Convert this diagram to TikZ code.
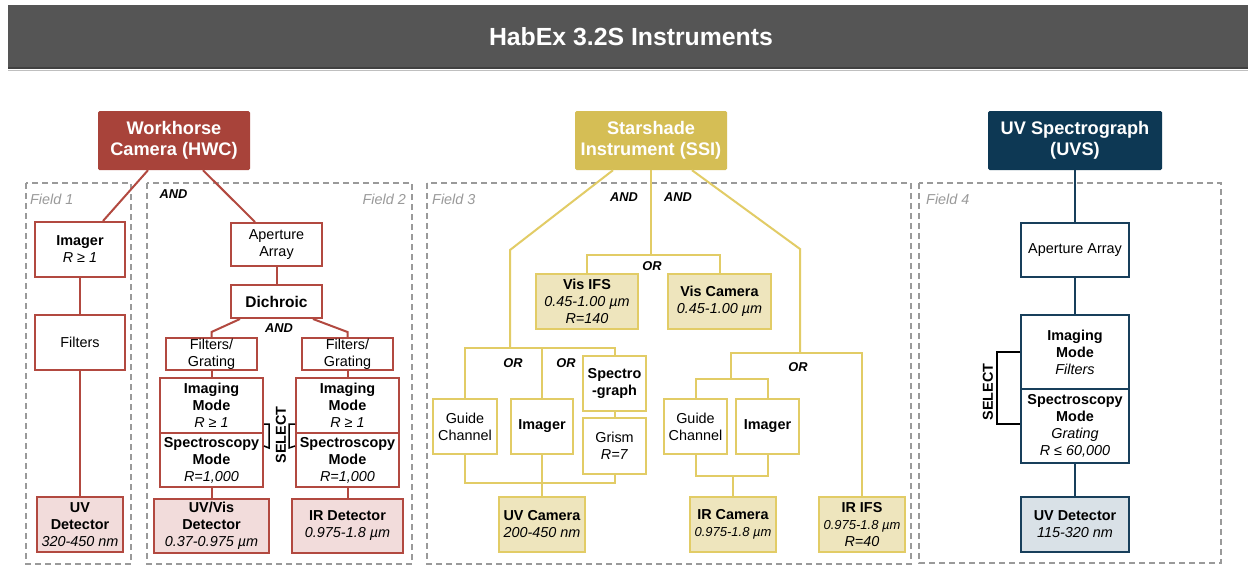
\documentclass[tikz,border=0pt]{standalone}
\usepackage{fontspec}
\setmainfont{Liberation Sans}
\usetikzlibrary{calc}
\newcommand\fsz[2]{\fontsize{#1}{#2}\selectfont}
\definecolor{hred}{HTML}{A8433A}
\definecolor{hredl}{HTML}{B24940}
\definecolor{hpink}{HTML}{F2DCDB}
\definecolor{hgold}{HTML}{D5BE55}
\definecolor{hgoldl}{HTML}{E2CC66}
\definecolor{hgoldf}{HTML}{EEE5BD}
\definecolor{hnavy}{HTML}{0D3854}
\definecolor{hnavyl}{HTML}{183F5B}
\definecolor{hbluef}{HTML}{D9E1E7}
\definecolor{fgray}{HTML}{9A9A9A}
\definecolor{tbar}{HTML}{555555}
\tikzset{
  rect/.style n args={4}{at={({(#1+#3)/2},{(#2+#4)/2})}, minimum width={#3-#1}, minimum height={#4-#2}},
  box/.style={inner sep=0pt, align=center, line width=2pt, font=\fsz{14.4}{17}},
  rb/.style={box, draw=hredl, fill=white},
  rd/.style={rb, fill=hpink},
  yb/.style={box, draw=hgoldl, fill=white},
  yd/.style={yb, fill=hgoldf},
  nb/.style={box, draw=hnavyl, fill=white},
  nd/.style={nb, fill=hbluef},
  head/.style={inner sep=0pt, align=center, font=\fsz{18.2}{21}\bfseries, text=white, rounded corners=1.5pt},
  rl/.style={draw=hredl, line width=2pt},
  yl/.style={draw=hgoldl, line width=2pt},
  nl/.style={draw=hnavyl, line width=2pt},
  fld/.style={draw=fgray, line width=1.2pt, dash pattern=on 6pt off 4pt},
  flab/.style={font=\fsz{14.4}{17}\itshape, text=fgray, inner sep=0pt},
  logic/.style={font=\fsz{12.8}{15}\bfseries\itshape, inner sep=0pt},
  seltx/.style={font=\fsz{14.4}{17}\bfseries, inner sep=0pt, rotate=90},
  selb/.style={draw=black, line width=1.5pt},
}
\begin{document}
\begin{tikzpicture}[x=1pt,y=-1pt]
\useasboundingbox (0,0) rectangle (1248,582);
\fill[white] (0,0) rectangle (1248,582);
% title bar
\fill[tbar] (8,5) rectangle (1248,68);
\draw[black!75, line width=1.5pt] (8,68) -- (1248,68);
\draw[black!25, line width=1pt] (8,70) -- (1248,70);
\node[font=\fsz{24.8}{28}\bfseries, text=white, inner sep=0pt] (title) at (631,37) {HabEx 3.2S Instruments};

% field frames
\draw[fld] (26,183) rectangle (131,564);
\draw[fld] (147,183) rectangle (412,564);
\draw[fld] (427,183) rectangle (911,564);
\draw[fld] (919,183) rectangle (1221,563);
\node[flab, anchor=west] (f1) at (30,199) {Field 1};
\node[flab, anchor=east] (f2) at (406,199) {Field 2};
\node[flab, anchor=west] (f3) at (432,199) {Field 3};
\node[flab, anchor=west] (f4) at (926,199) {Field 4};

% ===== HWC =====
\node[head, fill=hred, rect={98}{111}{250}{170}] (hwc) {Workhorse\\Camera (HWC)};
\node[rb, rect={35}{222}{125}{277}] (imager1) {\textbf{Imager}\\\textit{R ≥ 1}};
\node[rb, rect={35}{315}{125}{370}] (filters1) {Filters};
\node[rd, rect={37}{497}{123}{552}] (uvdet1) {\textbf{UV}\\\textbf{Detector}\\\textit{320-450 nm}};
\draw[rl] ([xshift=-26pt]hwc.south) -- ([xshift=23pt]imager1.north);
\draw[rl] (imager1) -- (filters1);
\draw[rl] (filters1) -- (uvdet1);

\node[logic] (and1) at (173.5,194) {AND};
\node[rb, rect={231}{223}{322}{266}] (ap2) {Aperture\\Array};
\node[rb, rect={231}{285}{322}{318}, font=\fsz{15.5}{18}\bfseries] (dich) {Dichroic};
\node[logic] (and2) at (279,328) {AND};
\node[rb, rect={166}{338}{257}{370}] (fgL) {Filters/\\Grating};
\node[rb, rect={302}{338}{393}{370}] (fgR) {Filters/\\Grating};
\node[rb, rect={160}{378}{263}{433}] (imgL) {\textbf{Imaging}\\\textbf{Mode}\\\textit{R ≥ 1}};
\node[rb, rect={160}{433}{263}{487}] (spcL) {\textbf{Spectroscopy}\\\textbf{Mode}\\\textit{R=1,000}};
\node[rb, rect={296}{378}{399}{433}] (imgR) {\textbf{Imaging}\\\textbf{Mode}\\\textit{R ≥ 1}};
\node[rb, rect={296}{433}{399}{487}] (spcR) {\textbf{Spectroscopy}\\\textbf{Mode}\\\textit{R=1,000}};
\node[rd, rect={154}{499}{269}{553}] (detL) {\textbf{UV/Vis}\\\textbf{Detector}\\\textit{0.37-0.975 µm}};
\node[rd, rect={292}{499}{403}{553}] (detR) {\textbf{IR Detector}\\\textit{0.975-1.8 µm}};
\draw[rl] ([xshift=29pt]hwc.south) -- ([xshift=-21.5pt]ap2.north);
\draw[rl] (ap2) -- (dich);
\draw[rl] ([xshift=-36.5pt]dich.south) -- ([yshift=5pt]fgL.north) -- (fgL.north);
\draw[rl] ([xshift=36.5pt]dich.south) -- ([yshift=5pt]fgR.north) -- (fgR.north);
\draw[rl] (fgL) -- (imgL);
\draw[rl] (fgR) -- (imgR);
\draw[rl] (spcL) -- (detL);
\draw[rl] (spcR) -- (detR);
\draw[selb] ([yshift=10pt]imgL.south east) -- ++(5,0) -- ++(0,24) -- ([yshift=-14pt]spcL.north east);
\draw[selb] ([yshift=10pt]imgR.south west) -- ++(-6,0) -- ++(0,24) -- ([yshift=-14pt]spcR.north west);
\node[seltx] (selH) at (281,435) {SELECT};

% ===== SSI =====
\node[head, fill=hgold, rect={575}{111}{727}{170}] (ssi) {Starshade\\Instrument (SSI)};
\node[logic] (and3) at (624,197) {AND};
\node[logic] (and4) at (678,197) {AND};
\node[logic] (or1) at (652,266) {OR};
\node[yd, rect={536}{274}{638}{329}] (visifs) {\textbf{Vis IFS}\\\textit{0.45-1.00 µm}\\\textit{R=140}};
\node[yd, rect={668}{274}{771}{329}] (viscam) {\textbf{Vis Camera}\\\textit{0.45-1.00 µm}};
\coordinate (sM) at (651,255);
\draw[yl] (ssi.south) -- (sM);
\draw[yl] (visifs.north) -- (visifs.north |- sM) -- (viscam.north |- sM) -- (viscam.north);

% left branch
\coordinate (sL1) at (510,250);
\coordinate (sLbus) at (510,348);
\node[yb, rect={433}{399}{497}{454}] (guide1) {Guide\\Channel};
\node[yb, rect={511}{399}{573}{454}, font=\fsz{14.4}{17}\bfseries] (img3) {Imager};
\node[yb, rect={583}{356}{646}{411}, font=\fsz{14.4}{17}\bfseries] (spg) {Spectro\\-graph};
\node[yb, rect={583}{418}{646}{474}] (grism) {Grism\\\textit{R=7}};
\node[yd, rect={499}{497}{585}{552}] (uvcam) {\textbf{UV Camera}\\\textit{200-450 nm}};
\node[logic] (or2) at (513,363) {OR};
\node[logic] (or3) at (566,363) {OR};
\draw[yl] ([xshift=-38pt]ssi.south) -- (sL1) -- (sLbus);
\draw[yl] (guide1.north) -- (guide1.north |- sLbus) -- (spg.north |- sLbus) -- (spg.north);
\draw[yl] (img3.north) -- (img3.north |- sLbus);
\draw[yl] (spg) -- (grism);
\coordinate (sLb) at (542,483);
\draw[yl] (guide1.south) -- (guide1.south |- sLb) -- (grism.south |- sLb) -- (grism.south);
\draw[yl] (img3) -- (uvcam);

% right branch
\coordinate (sR1) at (800,249);
\coordinate (sRbus) at (800,353);
\coordinate (sR2) at (731,353);
\coordinate (sR3) at (731,379);
\coordinate (sRb) at (733,476);
\node[yb, rect={664}{399}{727}{454}] (guide2) {Guide\\Channel};
\node[yb, rect={736}{399}{799}{454}, font=\fsz{14.4}{17}\bfseries] (img4) {Imager};
\node[yd, rect={690}{497}{776}{552}] (ircam) {\textbf{IR Camera}\\\fsz{13}{17}\textit{0.975-1.8 µm}};
\node[yd, rect={819}{497}{905}{552}] (irifs) {\textbf{IR IFS}\\\fsz{13}{17}\textit{0.975-1.8 µm}\\\textit{R=40}};
\node[logic] (or4) at (798,367) {OR};
\draw[yl] ([xshift=41pt]ssi.south) -- (sR1) -- (sRbus);
\draw[yl] (irifs.north) -- (irifs.north |- sRbus) -- (sR2) -- (sR3);
\draw[yl] (guide2.north) -- (guide2.north |- sR3) -- (img4.north |- sR3) -- (img4.north);
\draw[yl] (guide2.south) -- (guide2.south |- sRb) -- (img4.south |- sRb) -- (img4.south);
\draw[yl] (sRb) -- (ircam.north);

% ===== UVS =====
\node[head, fill=hnavy, rect={988}{111}{1162}{170}] (uvs) {UV Spectrograph\\(UVS)};
\node[nb, rect={1021}{223}{1129}{277}] (ap4) {Aperture Array};
\node[nb, rect={1021}{315}{1129}{389}] (img5) {\textbf{Imaging}\\\textbf{Mode}\\\textit{Filters}};
\node[nb, rect={1021}{389}{1129}{463}] (spc5) {\textbf{Spectroscopy}\\\textbf{Mode}\\\textit{Grating}\\\textit{R ≤ 60,000}};
\node[nd, rect={1021}{497}{1129}{552}] (uvdet5) {\textbf{UV Detector}\\\textit{115-320 nm}};
\draw[nl] (uvs) -- (ap4);
\draw[nl] (ap4) -- (img5);
\draw[nl] (spc5) -- (uvdet5);
\draw[selb] ([yshift=-38pt]img5.north west) -- ++(-23,0) -- ++(0,72) -- ([yshift=-36pt]spc5.north west);
\node[seltx] (selU) at (988,392) {SELECT};
\end{tikzpicture}
\end{document}
